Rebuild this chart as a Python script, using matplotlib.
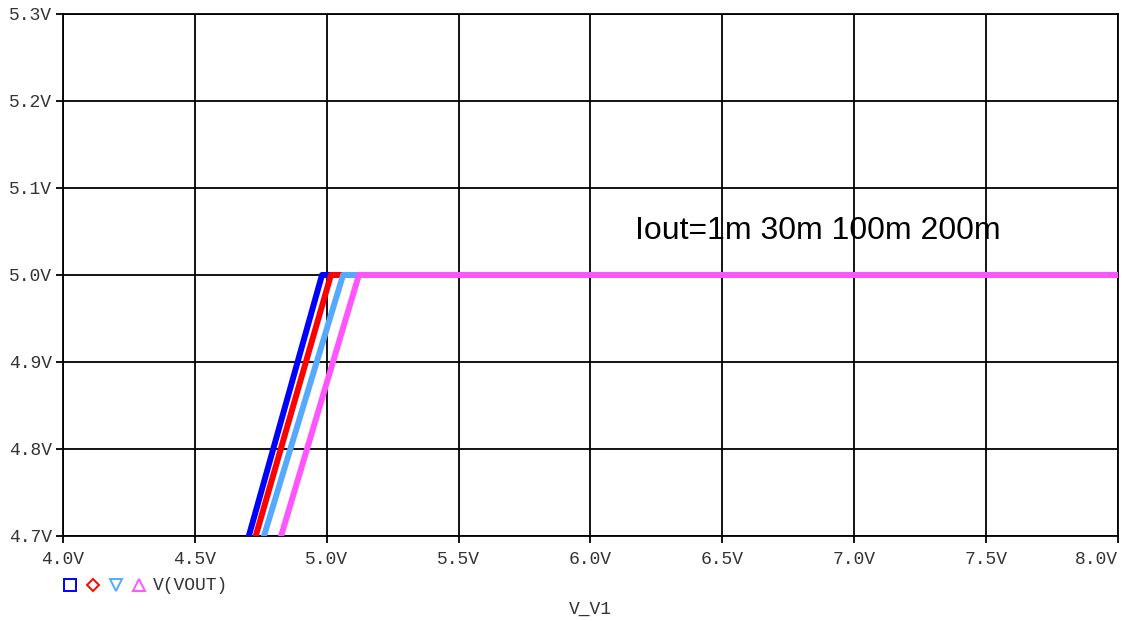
import numpy as np
import matplotlib.pyplot as plt
from matplotlib.lines import Line2D

# sweep V_V1 -> V(VOUT), one trace per load current
vin_1m = [4.700, 4.982, 8.0]
vin_30m = [4.726, 5.016, 8.0]
vin_100m = [4.757, 5.062, 8.0]
vin_200m = [4.822, 5.122, 8.0]
vout = [4.695, 5.0, 5.0]

colors = ["#0000ff", "#ff0000", "#55aaff", "#ff55ff"]
markers = ["s", "D", "v", "^"]

x_ticks = [4.0, 4.5, 5.0, 5.5, 6.0, 6.5, 7.0, 7.5, 8.0]
y_ticks = [4.7, 4.8, 4.9, 5.0, 5.1, 5.2, 5.3]

mono = "Liberation Mono"

fig = plt.figure(figsize=(11.35, 6.21), dpi=100)
ax = fig.add_axes([0.0555, 0.1369, 0.9295, 0.8406])

for xs, c in zip([vin_1m, vin_30m, vin_100m, vin_200m], colors):
    ax.plot(xs, vout, color=c, linewidth=4.3, solid_capstyle="butt", zorder=3)

ax.set_xlim(4.0, 8.0)
ax.set_ylim(4.7, 5.3)
ax.set_xticks(x_ticks)
ax.set_yticks(y_ticks)
ax.set_xticklabels([f"{v:.1f}V" for v in x_ticks], fontfamily=mono, fontsize=13, color="#333333")
ax.set_yticklabels([f"{v:.1f}V" for v in y_ticks], fontfamily=mono, fontsize=13, color="#333333")
ax.get_xticklabels()[-1].set_horizontalalignment("right")
ax.tick_params(axis="both", direction="out", length=5, width=1.3, color="black", pad=3)
ax.tick_params(axis="x", pad=6)
ax.grid(True, color="black", linewidth=1.3)
ax.set_axisbelow(True)
for s in ax.spines.values():
    s.set_linewidth(1.3)
    s.set_color("black")

ax.text(6.17, 5.05, "Iout=1m 30m 100m 200m", fontsize=23, fontfamily="Liberation Sans",
        va="center", ha="left", zorder=4)

# PSpice-style legend under the axis
for i, (c, m) in enumerate(zip(colors, markers)):
    fig.add_artist(Line2D([(70 + 23 * i) / 1135], [1 - 585 / 621], transform=fig.transFigure,
                          marker=m, markersize=8 if m != "D" else 6.5, markerfacecolor="none",
                          markeredgecolor=c, markeredgewidth=1.4, linestyle="none"))
fig.text(153 / 1135, 1 - 585 / 621, "V(VOUT)", fontfamily=mono, fontsize=13, color="#333333",
         va="center", ha="left")

fig.text(590 / 1135, 1 - 609 / 621, "V_V1", fontfamily=mono, fontsize=13, color="#333333",
         va="center", ha="center")

fig.savefig("out.png", dpi=100)
